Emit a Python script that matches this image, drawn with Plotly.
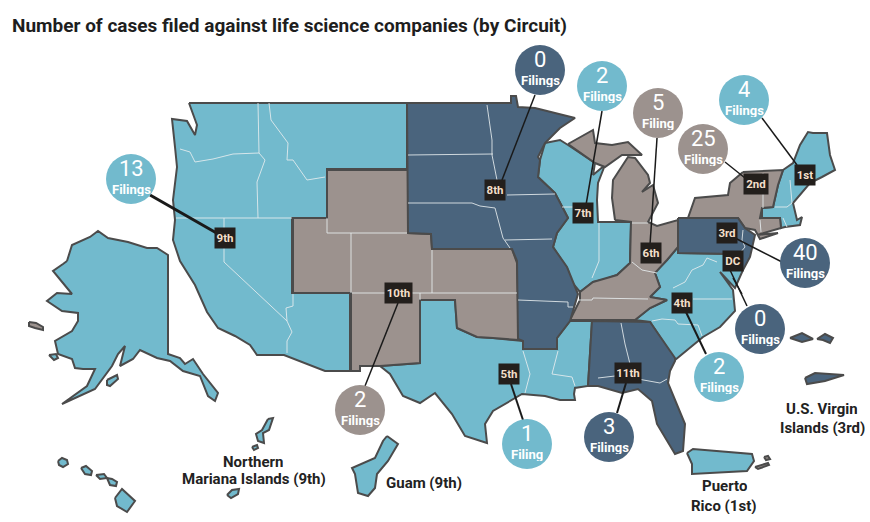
import plotly.graph_objects as go

TEAL = "#72bacd"
NAVY = "#4a647d"
GREY = "#9c928e"
EDGE = "#4b4b4b"
BOX = "#231f1c"
COND = "Roboto, Arial, sans-serif"

title = "Number of cases filed against life science companies (by Circuit)"

# outlines, one (x, y) list per circuit or island
ninth = [(189,103),(407,103),(407,169),(327,169),(327,218),(292,218),(292,293),(350,293),(350,371),(325,371),
         (284,355),(257,355),(250,345),(235,336),(218,328),(207,312),(195,285),(180,261),(173,240),(175,220),(173,200),
         (177,167),(175,147),(172,119),(187,121),(195,135),(197,125)]
tenth = [(327,170),(408,170),(408,233),(431,234),(432,249),(512,249),(517,263),(519,340),(493,338),(477,337),
         (457,328),(455,300),(420,300),(420,363),(380,366),(360,366),(360,371),(351,371),(351,293),(293,293),
         (293,218),(327,218)]
eighth = [(407,103),(511,103),(511,96),(516,96),(518,107),(535,108),(575,118),(560,128),(545,143),(538,157),
          (540,160),(538,177),(555,193),(568,218),(557,233),(553,247),(567,267),(578,294),(570,321),(557,338),
          (557,349),(523,349),(523,341),(518,339),(517,261),(512,249),(432,249),(431,234),(408,233)]
fifth = [(420,300),(455,300),(457,328),(477,337),(493,338),(519,340),(523,341),(523,349),(557,349),(557,338),
         (570,321),(592,321),(588,386),(575,388),(574,394),(575,400),(560,400),(545,396),(522,394),(493,411),(485,424),(487,443),
         (465,436),(452,414),(435,393),(420,403),(403,396),(390,374),(380,366),(420,363)]
seventh = [(545,143),(560,140),(568,145),(595,163),(593,175),(605,165),(598,183),(597,200),(598,222),(631,222),
           (630,263),(617,275),(603,280),(593,282),(580,292),(570,280),(568,270),(560,258),(553,247),(557,233),
           (568,218),(555,193),(538,177),(540,160)]
sixth_up = [(568,144),(593,130),(595,143),(612,145),(628,142),(642,155),(622,155),(605,167),(595,163)]
sixth_low = [(615,220),(612,198),(613,180),(628,157),(635,158),(648,175),(650,183),(642,192),(653,185),(658,203),
             (648,222),(657,226),(678,220),(678,247),(667,260),(657,270),(655,273),(660,287),(650,297),(667,300),
             (650,308),(635,320),(570,320),(580,300),(580,292),(593,282),(617,275),(630,263),(631,222)]
second = [(743,172),(783,170),(778,185),(773,207),(762,208),(760,218),(780,218),(781,228),(757,235),(778,233),
          (760,239),(755,230),(745,228),(738,218),(688,218),(695,198),(728,195),(730,183)]
first = [(783,170),(793,163),(800,145),(808,132),(813,133),(827,133),(830,155),(835,170),(822,177),(810,183),(793,203),(797,220),(802,217),
         (800,225),(785,227),(781,228),(780,218),(762,218),(762,208),(773,207),(778,185)]
third = [(678,218),(738,218),(745,228),(755,235),(750,257),(743,270),(735,254),(678,253)]
fourth = [(657,270),(667,260),(678,247),(678,253),(735,254),(743,270),(735,288),(720,272),(733,290),(735,311),
          (720,327),(703,337),(675,360),(650,322),(635,320),(650,308),(667,300),(650,297),(660,287),(655,273)]
eleventh = [(592,321),(650,322),(675,358),(675,361),(670,371),(668,383),(685,424),(683,451),(675,454),(657,424),
            (652,401),(638,389),(622,393),(598,386),(588,386)]
alaska = [(67,261),(72,245),(90,237),(98,231),(108,238),(128,242),(147,248),(157,248),(168,255),(168,354),(180,358),
          (185,364),(193,359),(203,374),(218,393),(215,401),(208,396),(200,376),(183,371),(170,361),(157,358),
          (140,350),(133,359),(120,366),(125,346),(118,354),(112,366),(95,389),(62,404),(87,386),(95,369),(83,369),
          (75,368),(72,359),(58,354),(55,341),(72,331),(78,321),(78,313),(62,311),(47,301),(57,293),(72,294),
          (57,276),(53,271),(63,264)]
aleutian = [(29,322),(36,323),(43,327),(43,330),(35,328),(29,326)]
nunivak = [(49,355),(56,354),(58,358),(54,360)]
kodiak = [(107,380),(117,375),(118,379),(110,386),(107,385)]
kauai = [(58,461),(62,458),(67,460),(68,464),(63,467),(59,465)]
oahu = [(81,468),(86,466),(92,471),(91,475),(85,474)]
molokai = [(96,475),(104,474),(107,478),(100,479)]
maui = [(107,478),(112,479),(117,482),(116,486),(110,485)]
big_island = [(115,498),(122,489),(135,501),(127,512),(117,506)]
mariana_a = [(268,419),(273,418),(269,430),(263,433),(264,443),(258,441),(256,434),(262,430)]
mariana_b = [(252,447),(257,445),(258,448),(254,450)]
mariana_c = [(227,495),(232,490),(239,489),(238,494),(231,498)]
guam = [(387,436),(398,444),(388,461),(377,474),(375,488),(368,496),(358,493),(355,474),(352,468),(362,464),(375,458),(383,441)]
puerto_rico = [(687,453),(693,449),(752,454),(754,461),(747,471),(692,474),(692,464)]
pr_islet_a = [(764,457),(768,456),(770,459),(766,460)]
pr_islet_b = [(755,467),(768,463),(769,465),(758,469)]
vi_a = [(790,338),(802,333),(813,339),(802,342)]
vi_b = [(817,339),(825,334),(833,338),(830,343),(823,340)]
vi_c = [(805,378),(815,373),(844,375),(825,381),(807,384)]

teal_shapes = [ninth, seventh, fourth, fifth, first, alaska, nunivak, kodiak, kauai, oahu, molokai, maui,
               big_island, mariana_a, mariana_b, mariana_c, guam, puerto_rico]
grey_shapes = [tenth, sixth_up, sixth_low, second, aleutian, pr_islet_a, pr_islet_b]
navy_shapes = [eighth, third, eleventh, vi_a, vi_b, vi_c]

state_lines = [
    [(258,103),(259,153),(265,160),(257,182),(258,218)],
    [(180,149),(190,152),(195,162),(213,159),(233,154),(259,153)],
    [(269,103),(271,120),(288,143),(287,160),(293,160),(307,180),(325,177)],
    [(176,218),(292,218)],
    [(224,218),(224,262),(287,321),(292,332),(287,341),(287,353)],
    [(293,294),(293,306),(286,308),(287,321)],
    [(408,155),(493,154)],
    [(487,105),(492,140),(492,155),(497,180)],
    [(408,203),(472,203),(480,206),(495,208),(503,238),(510,248)],
    [(507,195),(555,194)],
    [(505,240),(552,239)],
    [(518,300),(568,302),(568,307),(573,307)],
    [(327,218),(327,233),(407,233)],
    [(351,233),(351,293)],
    [(432,250),(432,293)],
    [(352,293),(517,293)],
    [(420,293),(420,300)],
    [(523,351),(530,374),(525,393)],
    [(558,351),(552,374),(572,377),(575,386)],
    [(599,223),(599,261),(592,278)],
    [(562,207),(592,207)],
    [(632,223),(648,223)],
    [(632,262),(642,270),(657,273)],
    [(578,300),(592,300),(593,298),(648,299)],
    [(693,299),(732,299)],
    [(652,321),(662,319),(675,320),(678,324),(698,325),(702,336)],
    [(673,288),(685,282),(692,270),(703,265),(707,258),(717,262)],
    [(621,323),(625,344),(630,364)],
    [(598,378),(615,376),(638,379),(660,383),(667,379)],
    [(790,180),(792,203),(787,207),(775,207)],
    [(783,218),(787,227)],
    [(763,173),(763,208)],
    [(760,220),(761,232)],
    [(743,230),(742,240),(745,247),(740,253)],
]

# filing bubbles
filing_counts = ["13", "0", "2", "5", "25", "4", "40", "0", "2", "1", "3", "2"]
filing_words = ["Filings", "Filings", "Filings", "Filing", "Filings", "Filings", "Filings", "Filings", "Filings",
                "Filing", "Filings", "Filings"]
bubble_x = [131, 540, 602, 658, 703, 744, 805, 760, 719, 527, 609, 360]
bubble_y = [179, 70, 86, 113, 149, 100, 263, 329, 377, 444, 437, 410]
bubble_colors = [TEAL, NAVY, TEAL, GREY, GREY, TEAL, NAVY, NAVY, TEAL, TEAL, NAVY, GREY]

# circuit tags
circuit_names = ["9th", "8th", "7th", "6th", "2nd", "1st", "3rd", "DC", "10th", "4th", "5th", "11th"]
circuit_x = [225, 495, 583, 651, 756, 805, 727, 733, 398, 682, 509, 628]
circuit_y = [238, 190, 213, 253, 184, 175, 233, 261, 293, 303, 374, 373]
circuit_w = [20, 20, 20, 20, 24, 20, 20, 20, 27, 20, 20, 26]

# leader lines, each with its width
leaders = [
    ([(150,195),(220,235)], 3),
    ([(535,95),(502,180)], 1.5),
    ([(602,111),(586,205)], 1.5),
    ([(657,138),(650,245)], 1.5),
    ([(725,162),(745,178)], 1.5),
    ([(762,118),(797,165)], 1.5),
    ([(735,238),(782,262)], 1.5),
    ([(730,270),(747,306)], 1.5),
    ([(733,278),(742,294)], 1.5),
    ([(685,310),(706,354)], 2),
    ([(398,303),(365,386)], 1.5),
    ([(511,384),(523,420)], 2),
    ([(626,383),(617,413)], 2),
]

place_names = ["Northern", "Mariana Islands (9th)", "Guam (9th)", "Puerto", "Rico (1st)", "U.S. Virgin", "Islands (3rd)"]
place_x = [253, 254, 424, 724, 724, 822, 822]
place_y = [461, 478, 482, 485, 505, 408, 427]


def add_outlines(fig, shapes, color):
    for shape in shapes:
        xs = [p[0] for p in shape] + [shape[0][0]]
        ys = [p[1] for p in shape] + [shape[0][1]]
        fig.add_trace(go.Scatter(x=xs, y=ys, mode="lines", fill="toself", fillcolor=color,
                                 line=dict(color=EDGE, width=2), hoverinfo="skip"))


fig = go.Figure()
add_outlines(fig, teal_shapes, TEAL)
add_outlines(fig, grey_shapes, GREY)
add_outlines(fig, navy_shapes, NAVY)

for line in state_lines:
    fig.add_trace(go.Scatter(x=[p[0] for p in line], y=[p[1] for p in line], mode="lines",
                             line=dict(color="#e8eef0", width=1), opacity=0.85, hoverinfo="skip"))

for points, width in leaders:
    fig.add_trace(go.Scatter(x=[p[0] for p in points], y=[p[1] for p in points], mode="lines",
                             line=dict(color="#1a1a1a", width=width), hoverinfo="skip"))

fig.add_trace(go.Scatter(x=bubble_x, y=bubble_y, mode="markers",
                         marker=dict(size=50, color=bubble_colors, line=dict(width=0)), hoverinfo="skip"))

annotations = []
for n, word, x, y in zip(filing_counts, filing_words, bubble_x, bubble_y):
    annotations.append(dict(x=x, y=y, text=n, showarrow=False, yshift=11, height=18, borderpad=0,
                            font=dict(family=COND, size=22, color="white")))
    annotations.append(dict(x=x, y=y, text="<b>" + word + "</b>", showarrow=False, yshift=-10, height=14, borderpad=0,
                            font=dict(family=COND, size=13, color="white")))
for name, x, y, w in zip(circuit_names, circuit_x, circuit_y, circuit_w):
    annotations.append(dict(x=x, y=y, text="<b>" + name + "</b>", showarrow=False, width=w, height=20,
                            bgcolor=BOX, borderpad=0, align="center", valign="middle",
                            font=dict(family=COND, size=11.5, color="#f3dfca")))
for name, x, y in zip(place_names, place_x, place_y):
    annotations.append(dict(x=x, y=y, text="<b>" + name + "</b>", showarrow=False, height=17, borderpad=0,
                            font=dict(family=COND, size=15, color="#222222")))
annotations.append(dict(x=10, y=25, xanchor="left", text="<b>" + title + "</b>", showarrow=False,
                        font=dict(family=COND, size=19, color="#1e1e1e")))

fig.update_layout(
    width=870, height=522,
    margin=dict(l=0, r=0, t=0, b=0),
    paper_bgcolor="white", plot_bgcolor="white",
    showlegend=False,
    xaxis=dict(range=[0, 870], visible=False, fixedrange=True),
    yaxis=dict(range=[522, 0], visible=False, fixedrange=True),
    annotations=annotations,
)

fig.write_html("out.html", config=dict(displayModeBar=False),
               post_script="document.body.style.margin='0';")
